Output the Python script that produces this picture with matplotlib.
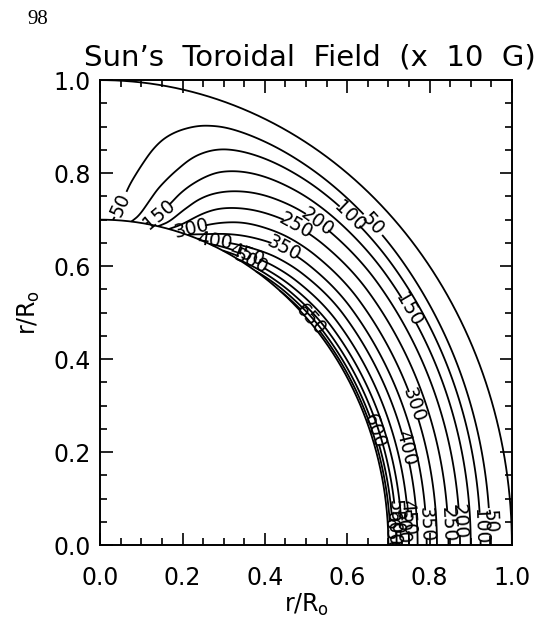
import numpy as np
import matplotlib
matplotlib.use("Agg")
import matplotlib.pyplot as plt
from matplotlib.ticker import MultipleLocator

# ---------------- data ----------------
levels = [50, 100, 150, 200, 250, 300, 350, 400, 450, 500, 550, 600, 650]
# radius (r/R0) at which each level crosses the equator (y = 0)
r_equator = [0.947, 0.924, 0.900, 0.874, 0.846, 0.818, 0.793, 0.771, 0.75, 0.733, 0.72, 0.711, 0.705]
# field at the base of the convection zone on the equator
b_base = 700
# latitude profile of the field (fraction of its equatorial value)
lat_deg = [0, 40, 50, 55, 60, 65, 70, 74, 77, 80, 83, 86, 88, 90]
lat_frac = [1.0, 0.99, 0.94, 0.89, 0.81, 0.71, 0.58, 0.44, 0.33, 0.24, 0.16, 0.10, 0.06, 0.0]
# radial widening of the field layer with latitude
wid_deg = [0, 30, 50, 65, 80, 90]
wid_fac = [1.0, 1.02, 1.05, 1.08, 1.10, 1.10]
r_inner, r_outer = 0.7, 1.0
x_ticks = [0.0, 0.2, 0.4, 0.6, 0.8, 1.0]
y_ticks = [0.0, 0.2, 0.4, 0.6, 0.8, 1.0]

# label spots (layout only)
label_spots = {
    50: [(0.945, 0.05), (0.662, 0.689), (0.03, 0.74)],
    100: [(0.925, 0.04), (0.613, 0.714)],
    150: [(0.745, 0.503), (0.116, 0.739)],
    200: [(0.857, 0.05), (0.522, 0.689)],
    250: [(0.840, 0.045), (0.472, 0.68)],
    300: [(0.757, 0.30), (0.215, 0.705)],
    350: [(0.79, 0.045), (0.447, 0.638)],
    400: [(0.741, 0.209), (0.281, 0.668)],
    450: [(0.75, 0.06), (0.36, 0.635)],
    500: [(0.733, 0.04), (0.373, 0.62)],
    550: [(0.72, 0.06)],
    600: [(0.711, 0.035), (0.654, 0.242)],
    650: [(0.705, 0.02), (0.513, 0.487)],
}


def pchip(xk, yk, x):
    xk = np.asarray(xk, float)
    yk = np.asarray(yk, float)
    h = np.diff(xk)
    d = np.diff(yk) / h
    m = np.zeros_like(yk)
    for k in range(1, len(xk) - 1):
        if d[k - 1] * d[k] > 0:
            w1 = 2 * h[k] + h[k - 1]
            w2 = h[k] + 2 * h[k - 1]
            m[k] = (w1 + w2) / (w1 / d[k - 1] + w2 / d[k])

    def end(h0, h1, d0, d1):
        mm = ((2 * h0 + h1) * d0 - h0 * d1) / (h0 + h1)
        if np.sign(mm) != np.sign(d0):
            mm = 0.0
        elif np.sign(d0) != np.sign(d1) and abs(mm) > abs(3 * d0):
            mm = 3 * d0
        return mm

    m[0] = end(h[0], h[1], d[0], d[1])
    m[-1] = end(h[-1], h[-2], d[-1], d[-2])
    x = np.asarray(x, float)
    i = np.clip(np.searchsorted(xk, x) - 1, 0, len(h) - 1)
    t = (x - xk[i]) / h[i]
    h00 = 2 * t**3 - 3 * t**2 + 1
    h10 = t**3 - 2 * t**2 + t
    h01 = -2 * t**3 + 3 * t**2
    h11 = t**3 - t**2
    return h00 * yk[i] + h10 * h[i] * m[i] + h01 * yk[i + 1] + h11 * h[i] * m[i + 1]


# ---------------- build the field ----------------
r_nodes = [r_inner] + r_equator[::-1] + [r_outer]
b_nodes = [b_base] + levels[::-1] + [0]
r = np.linspace(r_inner, r_outer, 400)
lat = np.linspace(0.0, 90.0, 600)
R, LAT = np.meshgrid(r, lat)
W = pchip(wid_deg, wid_fac, LAT)
G = pchip(lat_deg, lat_frac, LAT)
B = pchip(r_nodes, b_nodes, r_inner + (R - r_inner) / W) * G
X = R * np.cos(np.radians(LAT))
Y = R * np.sin(np.radians(LAT))

# ---------------- figure ----------------
plt.rcParams["font.family"] = ["DejaVu Sans"]
plt.rcParams["mathtext.fontset"] = "dejavusans"
fig = plt.figure(figsize=(5.36, 6.21), dpi=100)
ax = fig.add_axes([0.187, 0.122, 0.768, 0.749])
ax.set_xlim(0, 1)
ax.set_ylim(0, 1)

cs = ax.contour(X, Y, B, levels=levels, colors="black", linewidths=1.3)
cs.clabel(fmt="%d", fontsize=13.5, manual=[], inline=True)
for lev, spots in label_spots.items():
    idx = list(cs.levels).index(lev)
    for (sx, sy) in spots:
        cs.labelIndiceList = [idx]
        cs.add_label_near(sx, sy, inline=True, inline_spacing=2)

th = np.linspace(0, np.pi / 2, 300)
ax.plot(r_inner * np.cos(th), r_inner * np.sin(th), color="black", lw=1.3)
ax.plot(r_outer * np.cos(th), r_outer * np.sin(th), color="black", lw=1.3)

ax.set_xticks(x_ticks)
ax.set_yticks(y_ticks)
ax.set_xticklabels([f"{v:.1f}" for v in x_ticks])
ax.set_yticklabels([f"{v:.1f}" for v in y_ticks])
ax.xaxis.set_minor_locator(MultipleLocator(0.05))
ax.yaxis.set_minor_locator(MultipleLocator(0.05))
ax.tick_params(which="both", direction="in", top=True, right=True, width=1.2,
               labelsize=17)
ax.tick_params(which="major", length=9)
ax.tick_params(which="minor", length=5)
ax.tick_params(axis="x", which="major", pad=15)
ax.tick_params(axis="y", which="major", pad=7)
for s in ax.spines.values():
    s.set_linewidth(1.4)

ax.set_xlabel(r"r/R$_\mathregular{o}$", fontsize=17, labelpad=1)
ax.set_ylabel(r"r/R$_\mathregular{o}$", fontsize=17, labelpad=8)

fig.text(0.578, 0.895, "Sun\u2019s  Toroidal  Field  (x  10  G)", ha="center",
         va="baseline", fontsize=21)
fig.text(0.052, 0.968, "98", ha="left", va="center", fontsize=15,
         family="Liberation Serif")

fig.savefig("out.png", dpi=100)
